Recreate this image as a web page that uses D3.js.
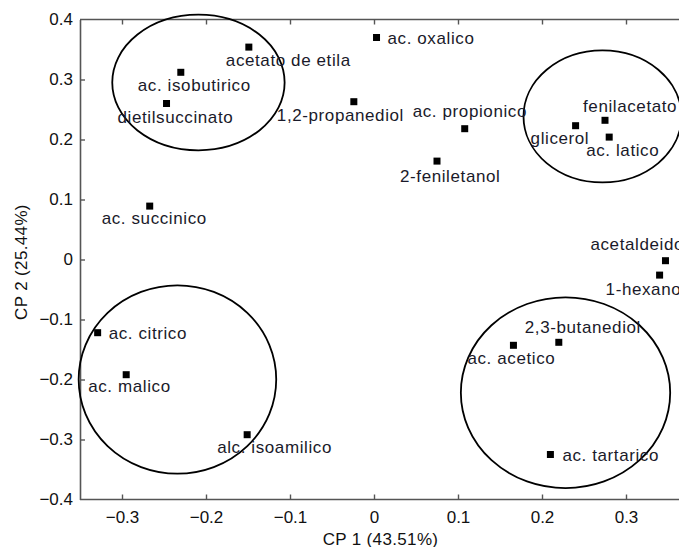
<!DOCTYPE html>
<html>
<head>
<meta charset="utf-8">
<script src="https://cdn.jsdelivr.net/npm/d3@7"></script>
<style>
  html, body { margin: 0; padding: 0; background: #fff; }
  svg { display: block; }
  text { font-family: Arial, "Liberation Sans", sans-serif; }
</style>
</head>
<body>
<svg id="chart" width="679" height="547"></svg>
<script>
// ---- data ----
const names = ["acetato de etila", "ac. isobutirico", "dietilsuccinato", "ac. succinico",
  "ac. oxalico", "1,2-propanediol", "ac. propionico", "2-feniletanol",
  "glicerol", "fenilacetato", "ac. latico", "acetaldeido", "1-hexanol",
  "ac. citrico", "ac. malico", "alc. isoamilico",
  "ac. acetico", "2,3-butanediol", "ac. tartarico"];
const cp1 = [-0.149, -0.230, -0.247, -0.267,
  0.003, -0.024, 0.108, 0.075,
  0.240, 0.275, 0.280, 0.347, 0.340,
  -0.329, -0.295, -0.151,
  0.166, 0.220, 0.210];
const cp2 = [0.354, 0.312, 0.260, 0.089,
  0.370, 0.263, 0.218, 0.164,
  0.223, 0.232, 0.204, -0.002, -0.026,
  -0.122, -0.192, -0.292,
  -0.143, -0.138, -0.325];
// group ellipses (centre and radii in CP units)
const ellCx = [-0.209, 0.272, -0.234, 0.228];
const ellCy = [0.295, 0.2385, -0.200, -0.222];
const ellRx = [0.1026, 0.094, 0.1176, 0.1246];
const ellRy = [0.113, 0.110, 0.157, 0.159];
const xTicks = [-0.3, -0.2, -0.1, 0, 0.1, 0.2, 0.3];
const yTicks = [0.4, 0.3, 0.2, 0.1, 0, -0.1, -0.2, -0.3, -0.4];
const xTitle = "CP 1 (43.51%)";
const yTitle = "CP 2 (25.44%)";

// ---- layout (label placement relative to marker, px) ----
const labelOffsets = [[-23, 19], [-43, 19], [-49, 19.5], [-48, 18],
  [11, 6.5], [-77, 19], [-52, -11.5], [-37, 21],
  [-45, 18], [-22, -8.5], [-23, 19], [-75, -11], [-54, 20],
  [11, 6], [-38, 17], [-30, 18],
  [-46, 19], [-34, -9], [12, 6.5]];

const svg = d3.select("#chart");
const mLeft = 80, mTop = 19.5, mBottom = 499.5;
const x = d3.scaleLinear().domain([-0.35, 0.35]).range([mLeft, mLeft + 588]);
const y = d3.scaleLinear().domain([-0.4, 0.4]).range([mBottom, mTop]);

const axisColor = "#555";
const fmt = d => d === 0 ? "0" : d3.format(".1f")(d);

const gx = svg.append("g").attr("transform", `translate(0,${mBottom})`)
  .call(d3.axisBottom(x).tickValues(xTicks).tickSize(-5).tickFormat(fmt).tickPadding(12).tickSizeOuter(0));
const gxt = svg.append("g").attr("transform", `translate(0,${mTop})`)
  .call(d3.axisTop(x).tickValues(xTicks).tickSize(-5).tickFormat("").tickSizeOuter(0));
const gy = svg.append("g").attr("transform", `translate(${mLeft},0)`)
  .call(d3.axisLeft(y).tickValues(yTicks).tickSize(-5).tickFormat(fmt).tickPadding(7).tickSizeOuter(0));

[gx, gxt, gy].forEach(g => {
  g.select(".domain").attr("stroke", axisColor).attr("stroke-width", 1.6);
  g.selectAll(".tick line").attr("stroke", axisColor).attr("stroke-width", 1.4);
  g.selectAll(".tick text").attr("fill", "#111").attr("font-size", 17)
    .attr("font-family", "Arial, 'Liberation Sans', sans-serif");
});
gx.select(".domain").attr("d", `M${mLeft},0H679`);
gxt.select(".domain").attr("d", `M${mLeft},0H679`);
gy.selectAll(".tick").filter(d => d === 0.4 || d === -0.4).select("line").remove();
gy.selectAll(".tick text").attr("x", -7);
gx.selectAll(".tick text").attr("dy", "0.71em").attr("y", 11);

// ellipses
svg.append("g").selectAll("ellipse").data(ellCx).join("ellipse")
  .attr("cx", (d, i) => x(d))
  .attr("cy", (d, i) => y(ellCy[i]))
  .attr("rx", (d, i) => x(ellRx[i]) - x(0))
  .attr("ry", (d, i) => y(0) - y(ellRy[i]))
  .attr("fill", "none").attr("stroke", "#000").attr("stroke-width", 1.8);

// markers
const ms = 7;
svg.append("g").selectAll("rect").data(names).join("rect")
  .attr("x", (d, i) => x(cp1[i]) - ms / 2)
  .attr("y", (d, i) => y(cp2[i]) - ms / 2)
  .attr("width", ms).attr("height", ms).attr("fill", "#000");

// labels
svg.append("g").selectAll("text").data(names).join("text")
  .attr("x", (d, i) => x(cp1[i]) + labelOffsets[i][0])
  .attr("y", (d, i) => y(cp2[i]) + labelOffsets[i][1])
  .attr("font-size", 17).attr("letter-spacing", 0.6).attr("fill", "#1a1a2a")
  .text(d => d);

// axis titles
svg.append("text").attr("x", 380.5).attr("y", 545).attr("text-anchor", "middle")
  .attr("font-size", 17).attr("letter-spacing", 0.35).attr("fill", "#111").text(xTitle);
svg.append("text").attr("transform", `translate(27,262) rotate(-90)`).attr("text-anchor", "middle")
  .attr("font-size", 17).attr("letter-spacing", 0.35).attr("fill", "#111").text(yTitle);
</script>
</body>
</html>
